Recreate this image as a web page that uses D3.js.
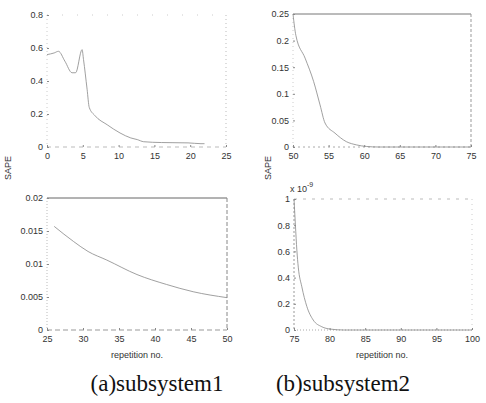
<!DOCTYPE html>
<html>
<head>
<meta charset="utf-8">
<script src="https://cdn.jsdelivr.net/npm/d3@7"></script>
<style>
  body { margin: 0; background: #fff; }
  svg { display: block; }
  .tick text { font-family: "Liberation Sans", Arial, sans-serif; font-size: 9px; fill: #333; }
  .tick line { stroke: #888; }
</style>
</head>
<body>
<svg id="canvas" width="486" height="403"></svg>
<script>
// subsystem 1, repetitions 0-25
let rep1 = [0, 1, 1.6, 2.5, 3.5, 4, 4.9, 5.1, 5.6, 5.9, 6.7, 8.4, 10.2, 11.7, 12.6, 13.5, 16, 19.7, 21.5, 22];
let sape1 = [0.56, 0.57, 0.58, 0.52, 0.45, 0.45, 0.59, 0.53, 0.35, 0.24, 0.19, 0.135, 0.085, 0.055, 0.045, 0.032, 0.027, 0.025, 0.02, 0.02];

// subsystem 2, repetitions 50-75
let rep2 = [50, 50.4, 51.7, 52.9, 53.8, 54.5, 55.9, 57.5, 58.9, 60.3, 62, 75];
let sape2 = [0.25, 0.21, 0.167, 0.123, 0.079, 0.045, 0.026, 0.01, 0.004, 0.001, 0, 0];

// subsystem 1, repetitions 25-50
let rep3 = [26, 28.7, 30.7, 33.3, 37.5, 41.6, 45.3, 50];
let sape3 = [0.0157, 0.0134, 0.0119, 0.0106, 0.0084, 0.0069, 0.0058, 0.0049];

// subsystem 2, repetitions 75-100 (x 10^-9)
let rep4 = [75, 75.2, 75.4, 75.6, 76.1, 76.8, 77.7, 78.9, 80.1, 82, 100];
let sape4 = [1, 0.8, 0.61, 0.48, 0.33, 0.18, 0.076, 0.025, 0.007, 0, 0];

let xTicks1 = [0, 5, 10, 15, 20, 25];
let yTicks1 = [0, 0.2, 0.4, 0.6, 0.8];
let xTicks2 = [50, 55, 60, 65, 70, 75];
let yTicks2 = [0, 0.05, 0.1, 0.15, 0.2, 0.25];
let xTicks3 = [25, 30, 35, 40, 45, 50];
let yTicks3 = [0, 0.005, 0.01, 0.015, 0.02];
let xTicks4 = [75, 80, 85, 90, 95, 100];
let yTicks4 = [0, 0.2, 0.4, 0.6, 0.8, 1];

let captions = ["(a)subsystem1", "(b)subsystem2"];

let svg = d3.select("#canvas");

let panels = [
    { xs: rep1, ys: sape1, xt: xTicks1, yt: yTicks1, left: 47, right: 226, top: 15, bottom: 147,
      edges: { top: ["#ccc", "1,14"], right: ["#bbb", "1,3"], bottom: ["#bbb", "4,4"], left: ["#ccc", "1,3"] } },
    { xs: rep2, ys: sape2, xt: xTicks2, yt: yTicks2, left: 293, right: 471, top: 14, bottom: 147,
      edges: { top: ["#777", null], right: ["#999", "3,2"], bottom: ["#aaa", "2,3"], left: ["#ccc", "1,3"] } },
    { xs: rep3, ys: sape3, xt: xTicks3, yt: yTicks3, left: 47, right: 227, top: 198, bottom: 330,
      edges: { top: ["#666", null], right: ["#888", "4,2"], bottom: ["#999", "5,3"], left: ["#bbb", "1,2"] } },
    { xs: rep4, ys: sape4, xt: xTicks4, yt: yTicks4, left: 294, right: 472, top: 199, bottom: 330,
      edges: { top: ["#bbb", "3,6"], right: ["#ccc", "1,4"], bottom: ["#aaa", "1,2"], left: ["#999", "2,2"] } }
];

let fmt = (d) => d === 0 ? "0" : String(+d.toFixed(4));

panels.forEach((p) => {
    let x = d3.scaleLinear().domain([p.xt[0], p.xt[p.xt.length - 1]]).range([p.left, p.right]);
    let y = d3.scaleLinear().domain([p.yt[0], p.yt[p.yt.length - 1]]).range([p.bottom, p.top]);

    let g = svg.append("g");

    // box edges
    let edge = (x1, y1, x2, y2, st) => {
        g.append("line")
            .attr("x1", x1).attr("y1", y1).attr("x2", x2).attr("y2", y2)
            .attr("stroke", st[0]).attr("stroke-width", 1)
            .attr("stroke-dasharray", st[1]);
    };
    edge(p.left, p.top, p.right, p.top, p.edges.top);
    edge(p.right, p.top, p.right, p.bottom, p.edges.right);
    edge(p.left, p.bottom, p.right, p.bottom, p.edges.bottom);
    edge(p.left, p.top, p.left, p.bottom, p.edges.left);

    g.append("g")
        .attr("transform", "translate(0," + p.bottom + ")")
        .call(d3.axisBottom(x).tickValues(p.xt).tickFormat(fmt).tickSizeInner(-2).tickSizeOuter(0).tickPadding(6))
        .call((a) => a.select(".domain").remove());

    g.append("g")
        .attr("transform", "translate(" + p.left + ",0)")
        .call(d3.axisLeft(y).tickValues(p.yt).tickFormat(fmt).tickSizeInner(-2).tickSizeOuter(0).tickPadding(4))
        .call((a) => a.select(".domain").remove());

    let line = d3.line()
        .x((d, i) => x(p.xs[i]))
        .y((d) => y(d))
        .curve(d3.curveMonotoneX);

    g.append("path")
        .datum(p.ys)
        .attr("d", line)
        .attr("fill", "none")
        .attr("stroke", "#888")
        .attr("stroke-width", 0.8);
});

// y labels
[[8, 168], [268, 168]].forEach((pos) => {
    svg.append("text")
        .attr("transform", "translate(" + pos[0] + "," + pos[1] + ") rotate(-90)")
        .attr("text-anchor", "middle")
        .attr("dy", "0.35em")
        .style("font-family", "Liberation Sans, Arial, sans-serif")
        .style("font-size", "9px")
        .attr("fill", "#333")
        .text("SAPE");
});

// exponent
let ex = svg.append("text")
    .attr("x", 290).attr("y", 192)
    .style("font-family", "Liberation Sans, Arial, sans-serif")
    .style("font-size", "9px")
    .attr("fill", "#333")
    .text("x 10");
ex.append("tspan").attr("dy", -5).style("font-size", "7px").text("-9");

// x labels
[137, 382].forEach((cx) => {
    svg.append("text")
        .attr("x", cx).attr("y", 358)
        .attr("text-anchor", "middle")
        .style("font-family", "Liberation Sans, Arial, sans-serif")
        .style("font-size", "9px")
        .attr("fill", "#333")
        .text("repetition no.");
});

// captions
[157, 343].forEach((cx, i) => {
    svg.append("text")
        .attr("x", cx).attr("y", 391)
        .attr("text-anchor", "middle")
        .style("font-family", "Liberation Serif, Times New Roman, serif")
        .style("font-size", "23px")
        .attr("fill", "#111")
        .text(captions[i]);
});
</script>
</body>
</html>
